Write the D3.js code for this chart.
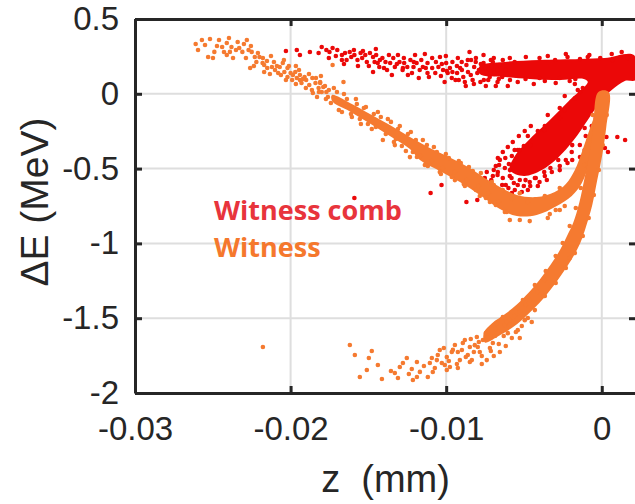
<!DOCTYPE html>
<html>
<head>
<meta charset="utf-8">
<script src="https://cdn.jsdelivr.net/npm/d3@7/dist/d3.min.js"></script>
<style>
  html, body { margin: 0; padding: 0; background: #ffffff; }
  svg { display: block; }
</style>
</head>
<body>
<svg id="chart" width="635" height="504"></svg>
<script>
// ---- axes ----
const xDomain = [-0.03, 0.0022];
const yDomain = [-2, 0.5];
const xTicks = [-0.03, -0.02, -0.01, 0];
const xTickLabels = ["-0.03", "-0.02", "-0.01", "0"];
const yTicks = [-2, -1.5, -1, -0.5, 0, 0.5];
const yTickLabels = ["-2", "-1.5", "-1", "-0.5", "0", "0.5"];
const xLabel = "z\u00a0 (mm)";
const yLabel = "\u0394E (MeV)";
const seriesNames = ["Witness comb", "Witness"];

// ---- dense regions of the phase space, outlines as [z (mm), dE (MeV)] ----
const combCore = [
  [-0.00784, 0.186], [-0.00623, 0.213], [-0.00398, 0.226], [-0.00141, 0.233], [0.00019, 0.239],
  [0.00206, 0.259], [0.00218, 0.092], [0.00148, 0.086], [0.00064, 0.025], [0.0, -0.041],
  [-0.00090, -0.175], [-0.00180, -0.309], [-0.00283, -0.429], [-0.00385, -0.509], [-0.00501, -0.549],
  [-0.00591, -0.509], [-0.00559, -0.416], [-0.00475, -0.315], [-0.00340, -0.182], [-0.00212, -0.048],
  [-0.00090, 0.079], [-0.00116, 0.099], [-0.00270, 0.092], [-0.00463, 0.099], [-0.00623, 0.112],
  [-0.00784, 0.132]
];
const witnessUpperCore = [
  [-0.01734, -0.008], [-0.01619, -0.061], [-0.01490, -0.135], [-0.01362, -0.209], [-0.01233, -0.289],
  [-0.01105, -0.362], [-0.00957, -0.436], [-0.00848, -0.496], [-0.00752, -0.563], [-0.00655, -0.623],
  [-0.00546, -0.676], [-0.00418, -0.690], [-0.00302, -0.656], [-0.00231, -0.603], [-0.00173, -0.509],
  [-0.00128, -0.389], [-0.00084, -0.255], [-0.00039, -0.122], [-0.00013, -0.028], [0.00013, 0.012],
  [0.00032, -0.015], [0.00006, -0.142], [-0.00032, -0.295], [-0.00077, -0.456], [-0.00128, -0.596],
  [-0.00193, -0.683], [-0.00289, -0.750], [-0.00418, -0.810], [-0.00546, -0.817], [-0.00655, -0.770],
  [-0.00784, -0.676], [-0.00912, -0.590], [-0.01041, -0.516], [-0.01169, -0.443], [-0.01233, -0.369],
  [-0.01362, -0.282], [-0.01490, -0.199], [-0.01619, -0.118], [-0.01734, -0.048]
];
const witnessLowerCore = [
  [0.00045, 0.012], [0.00029, -0.222], [0.00003, -0.409], [-0.00029, -0.577], [-0.00061, -0.743],
  [-0.00100, -0.884], [-0.00138, -0.997], [-0.00196, -1.111], [-0.00260, -1.211], [-0.00331, -1.312],
  [-0.00401, -1.399], [-0.00482, -1.482], [-0.00565, -1.556], [-0.00668, -1.622], [-0.00752, -1.662],
  [-0.00758, -1.596], [-0.00707, -1.535], [-0.00617, -1.469], [-0.00546, -1.408], [-0.00469, -1.328],
  [-0.00398, -1.241], [-0.00328, -1.141], [-0.00267, -1.041], [-0.00222, -0.947], [-0.00183, -0.860],
  [-0.00145, -0.730], [-0.00112, -0.570], [-0.00080, -0.402], [-0.00055, -0.222], [-0.00022, 0.012]
];

// ---- individual macro-particles [z (mm), dE (MeV)] ----
const combPoints = [
  // high-energy tail of the comb
  [-0.0203, 0.286], [-0.0196, 0.293], [-0.0182, 0.273], [-0.0180, 0.313], [-0.0177, 0.293],
  [-0.0175, 0.279], [-0.0173, 0.306], [-0.0170, 0.293], [-0.0167, 0.259], [-0.0167, 0.226],
  [-0.0165, 0.273], [-0.0164, 0.226], [-0.0162, 0.279], [-0.0161, 0.246], [-0.0159, 0.259],
  [-0.0157, 0.226], [-0.0155, 0.273], [-0.0154, 0.239], [-0.0152, 0.259], [-0.0151, 0.213],
  [-0.0149, 0.273], [-0.0147, 0.246], [-0.0146, 0.213], [-0.0145, 0.259], [-0.0144, 0.206],
  [-0.0143, 0.179], [-0.0141, 0.239], [-0.0147, 0.146], [-0.0139, 0.213], [-0.0138, 0.159],
  [-0.0136, 0.206], [-0.0134, 0.239], [-0.0133, 0.179], [-0.0131, 0.259], [-0.0130, 0.213],
  [-0.0128, 0.159], [-0.0127, 0.206], [-0.0125, 0.179], [-0.0123, 0.226], [-0.0122, 0.139],
  [-0.0121, 0.179], [-0.0120, 0.259], [-0.0119, 0.206], [-0.0117, 0.159], [-0.0116, 0.226],
  [-0.0115, 0.179], [-0.0112, 0.139], [-0.0112, 0.206], [-0.0109, 0.172], [-0.0109, 0.239],
  [-0.0107, 0.139], [-0.0105, 0.179], [-0.0104, 0.246], [-0.0102, 0.159], [-0.0101, 0.079],
  [-0.0100, 0.206], [-0.0099, 0.139], [-0.0096, 0.213], [-0.0096, 0.146], [-0.0094, 0.092],
  [-0.01940, 0.259], [-0.01876, 0.279], [-0.01754, 0.239], [-0.01709, 0.253], [-0.01657, 0.199],
  [-0.01593, 0.293], [-0.01567, 0.186], [-0.01535, 0.286], [-0.01497, 0.186], [-0.01452, 0.299],
  [-0.01400, 0.172], [-0.01368, 0.259], [-0.01349, 0.126], [-0.01317, 0.199], [-0.01272, 0.239],
  [-0.01246, 0.126], [-0.01208, 0.213], [-0.01176, 0.106], [-0.01137, 0.266], [-0.01111, 0.112],
  [-0.01066, 0.213], [-0.01034, 0.119], [-0.01002, 0.253], [-0.00976, 0.172], [-0.01028, 0.199],
  [-0.01131, 0.172], [-0.01278, 0.172], [-0.01426, 0.226],
  [-0.0093, 0.139], [-0.0091, 0.172], [-0.0089, 0.112], [-0.0087, 0.193], [-0.0086, 0.146],
  [-0.0085, 0.279], [-0.0083, 0.092], [-0.0082, 0.179], [-0.0080, 0.139], [-0.0078, 0.079],
  [-0.0076, 0.259], [-0.0076, 0.206], [-0.0074, 0.146], [-0.0072, 0.112], [-0.0071, 0.179],
  [-0.0069, 0.139], [-0.0067, 0.079], [-0.0066, 0.193], [-0.0064, 0.112], [-0.0062, 0.159],
  [-0.0090, 0.213], [-0.0084, 0.226], [-0.0075, 0.172], [-0.0073, 0.092], [-0.0070, 0.213],
  [-0.0067, 0.159], [-0.0088, 0.079], [-0.0081, 0.213],
  [-0.00925, 0.239], [-0.00874, 0.052], [-0.00809, 0.239], [-0.00745, 0.052], [-0.00694, 0.239],
  [-0.00919, 0.092], [-0.00842, 0.126], [-0.00777, 0.199], [-0.00726, 0.166], [-0.00662, 0.099],
  [-0.00636, 0.226],
  [-0.00899, 0.159], [-0.00861, 0.226], [-0.00822, 0.066], [-0.00790, 0.159], [-0.00758, 0.092],
  [-0.00713, 0.226], [-0.00681, 0.052], [-0.00931, 0.186], [-0.00964, 0.106], [-0.00996, 0.152],
  // around the dense band near z = 0
  [-0.00591, 0.239], [-0.00540, 0.079], [-0.00488, 0.246], [-0.00437, 0.066], [-0.00347, 0.253],
  [-0.00296, 0.072], [-0.00231, 0.266], [-0.00173, 0.066], [-0.00090, 0.246], [0.00064, 0.266],
  [0.00128, 0.279], [0.00167, 0.239], [-0.00604, 0.052], [-0.00366, 0.086], [-0.00206, 0.086],
  [-0.0022, 0.246], [-0.0008, 0.259], [-0.0001, 0.239], [0.0007, 0.226], [-0.0040, 0.239],
  [-0.0059, 0.092], [-0.0049, 0.099], [-0.0040, 0.106], [-0.0056, 0.213], [-0.0030, 0.226],
  [-0.0014, 0.233], [0.0012, 0.246], [-0.0027, 0.106], [-0.0017, 0.099],
  // chirped branch
  [0.0003, -0.289], [0.0010, -0.289], [0.0015, -0.309], [-0.0003, -0.362], [0.0002, -0.362],
  [0.0004, -0.389], [-0.0027, -0.510], [-0.0022, -0.463], [-0.0019, -0.443], [-0.0014, -0.423],
  [-0.0011, -0.376],
  [-0.00655, -0.442], [-0.00623, -0.496], [-0.00668, -0.523], [-0.00636, -0.563], [-0.00591, -0.549],
  [-0.00565, -0.596], [-0.00527, -0.576], [-0.00501, -0.616], [-0.00463, -0.590], [-0.00424, -0.563],
  [-0.00597, -0.469], [-0.00578, -0.416], [-0.00540, -0.376], [-0.00501, -0.349], [-0.00475, -0.282],
  [-0.00411, -0.249], [-0.00366, -0.215], [-0.00347, -0.142], [-0.00270, -0.095], [-0.00238, -0.015],
  [-0.00154, 0.025], [-0.00122, 0.039], [-0.00617, -0.610], [-0.00700, -0.549], [-0.00681, -0.483],
  [-0.00366, -0.549], [-0.00321, -0.523], [-0.00270, -0.483], [-0.00231, -0.443], [-0.00193, -0.389],
  [-0.00141, -0.342], [-0.00103, -0.282], [-0.00064, -0.215], [-0.00039, -0.162], [-0.00559, -0.643],
  [-0.00514, -0.656], [-0.00739, -0.523], [-0.00719, -0.610],
  [-0.00668, -0.429], [-0.00636, -0.389], [-0.00604, -0.356], [-0.00572, -0.322], [-0.00533, -0.282],
  [-0.00495, -0.249], [-0.00456, -0.215], [-0.00694, -0.509], [-0.00649, -0.643], [-0.00578, -0.663],
  [-0.00475, -0.643], [-0.00411, -0.616], [-0.00353, -0.576], [-0.00752, -0.563], [-0.00687, -0.676],
  [-0.0066, -0.476], [-0.0062, -0.429], [-0.0059, -0.510], [-0.0058, -0.563], [-0.0054, -0.610],
  [-0.0049, -0.577], [-0.0046, -0.616], [-0.0043, -0.563], [-0.0067, -0.543], [-0.0064, -0.610],
  [-0.0056, -0.376], [-0.0060, -0.630], [-0.0037, -0.523], [-0.0033, -0.496], [-0.0040, -0.590],
  [-0.0071, -0.577],
  [-0.0110, -0.663], [-0.0103, -0.610], [-0.0087, -0.723], [-0.0082, -0.623], [-0.0080, -0.710],
  [-0.0159, -0.697],
  [-0.0027, -0.162], [-0.0037, -0.242], [-0.0046, -0.343], [-0.0017, -0.028], [-0.0014, 0.012],
  [-0.0024, -0.108], [-0.0053, -0.376], [-0.0011, -0.229], [-0.0019, -0.343], [-0.0028, -0.443]
];

const witnessPoints = [
  // head of the witness bunch
  [-0.0261, 0.333], [-0.0257, 0.360], [-0.0253, 0.246], [-0.0249, 0.280], [-0.0246, 0.360],
  [-0.0244, 0.313], [-0.0241, 0.340], [-0.0241, 0.259], [-0.0238, 0.313], [-0.0239, 0.280],
  [-0.0234, 0.346], [-0.0233, 0.306], [-0.0231, 0.280], [-0.0227, 0.293], [-0.0226, 0.172],
  [-0.0225, 0.280], [-0.0223, 0.246], [-0.0222, 0.213], [-0.0220, 0.246], [-0.0218, 0.206],
  [-0.0217, 0.193], [-0.0217, 0.146], [-0.0215, 0.172], [-0.0212, 0.179], [-0.0210, 0.159],
  [-0.0208, 0.139], [-0.0207, 0.179], [-0.0205, 0.206], [-0.0204, 0.146], [-0.0202, 0.172],
  [-0.0202, 0.112], [-0.0200, 0.139], [-0.0199, 0.092], [-0.0197, 0.146], [-0.0196, 0.106],
  [-0.0194, 0.126], [-0.0193, 0.072], [-0.0191, 0.112], [-0.0190, 0.092], [-0.0188, 0.059],
  [-0.0186, 0.106], [-0.0184, 0.072], [-0.0182, 0.039], [-0.0181, 0.072], [-0.0180, 0.012],
  [-0.0179, 0.045], [-0.0177, 0.012], [-0.0176, -0.021], [-0.0183, -0.021], [-0.0194, 0.092],
  [-0.0173, 0.193], [-0.0166, 0.079], [-0.0181, 0.079],
  [-0.02595, 0.293], [-0.02550, 0.326], [-0.02518, 0.366], [-0.02499, 0.239], [-0.02473, 0.320],
  [-0.02428, 0.279], [-0.02396, 0.373], [-0.02370, 0.239], [-0.02351, 0.293], [-0.02300, 0.333],
  [-0.02287, 0.239], [-0.02255, 0.320], [-0.02236, 0.186], [-0.02210, 0.273], [-0.02178, 0.239],
  [-0.02152, 0.219], [-0.02133, 0.132], [-0.02107, 0.213], [-0.02088, 0.186], [-0.02062, 0.126],
  [-0.02043, 0.226], [-0.02030, 0.092], [-0.02011, 0.186], [-0.01985, 0.126], [-0.01966, 0.066],
  [-0.01946, 0.159], [-0.01921, 0.099], [-0.01902, 0.039], [-0.01882, 0.132], [-0.01863, 0.025],
  [-0.01837, 0.106], [-0.01818, 0.012], [-0.01805, 0.119], [-0.01779, 0.052], [-0.01773, -0.035],
  [-0.01754, 0.025], [-0.01857, 0.005], [-0.01966, 0.186], [-0.02126, 0.253], [-0.02281, 0.360],
  // upper arm
  [-0.01722, 0.039], [-0.01690, -0.108], [-0.01657, -0.001], [-0.01606, -0.155], [-0.01580, -0.035],
  [-0.01548, -0.202], [-0.01516, -0.088], [-0.01478, -0.235], [-0.01439, -0.122], [-0.01407, -0.309],
  [-0.01375, -0.168], [-0.01336, -0.322], [-0.01298, -0.215], [-0.01259, -0.382], [-0.01227, -0.255],
  [-0.01188, -0.422], [-0.01150, -0.309], [-0.01118, -0.483], [-0.01079, -0.356], [-0.01034, -0.536],
  [-0.01002, -0.402], [-0.00964, -0.556], [-0.00919, -0.449], [-0.00887, -0.603], [-0.00854, -0.489],
  [-0.00809, -0.643], [-0.00777, -0.529], [-0.00745, -0.696], [-0.00707, -0.590], [-0.00681, -0.743],
  [-0.00636, -0.643], [-0.00610, -0.790], [-0.00578, -0.703], [-0.00527, -0.844], [-0.00475, -0.723],
  [-0.00347, -0.830], [-0.00296, -0.777], [-0.00238, -0.750],
  [-0.01741, -0.061], [-0.01702, 0.012], [-0.01670, -0.122], [-0.01638, -0.035], [-0.01612, -0.135],
  [-0.01574, -0.068], [-0.01555, -0.168], [-0.01529, -0.095], [-0.01503, -0.202], [-0.01465, -0.135],
  [-0.01452, -0.222], [-0.01420, -0.155], [-0.01388, -0.269], [-0.01355, -0.188], [-0.01323, -0.302],
  [-0.01310, -0.235], [-0.01285, -0.349], [-0.01246, -0.269], [-0.01214, -0.389], [-0.01195, -0.309],
  [-0.01163, -0.416], [-0.01124, -0.342], [-0.01092, -0.449], [-0.01060, -0.389], [-0.01021, -0.496],
  [-0.00983, -0.429], [-0.00944, -0.523], [-0.00906, -0.463], [-0.00867, -0.576], [-0.00829, -0.516],
  [-0.00790, -0.616], [-0.00726, -0.663], [-0.00694, -0.610], [-0.00662, -0.723],
  [-0.00944, -0.577], [-0.00880, -0.616], [-0.01041, -0.523], [-0.01137, -0.476], [-0.01233, -0.423],
  [-0.01330, -0.343], [-0.00784, -0.683], [-0.00719, -0.723], [-0.00623, -0.790],
  [-0.00591, -0.844], [-0.00463, -0.851], [-0.00334, -0.804], [-0.00270, -0.777], [-0.00527, -0.664],
  [-0.00366, -0.683], [-0.00270, -0.630], [-0.00206, -1.098],
  // lower arm
  [-0.00366, -1.352], [-0.00296, -1.265], [-0.00231, -1.164], [-0.00173, -1.064], [-0.00122, -0.951],
  [-0.00084, -0.830], [-0.00051, -0.676], [-0.00019, -0.509], [0.00006, -0.342], [0.00032, -0.142],
  [-0.00507, -1.378], [-0.00430, -1.278], [-0.00360, -1.185], [-0.00296, -1.084], [-0.00251, -0.997],
  [-0.00206, -0.884], [-0.00167, -0.763], [-0.00135, -0.630], [-0.00109, -0.476], [-0.00084, -0.309],
  [-0.00058, -0.142],
  // low-energy tail
  [-0.01619, -1.679], [-0.01587, -1.746], [-0.01478, -1.719], [-0.01510, -1.846], [-0.01555, -1.893],
  [-0.01413, -1.906], [-0.01330, -1.866], [-0.01298, -1.826], [-0.01278, -1.799], [-0.01253, -1.766],
  [-0.01221, -1.840], [-0.01214, -1.913], [-0.01188, -1.893], [-0.01118, -1.893], [-0.01105, -1.799],
  [-0.01092, -1.766], [-0.01060, -1.780], [-0.01041, -1.713], [-0.00996, -1.760], [-0.00976, -1.826],
  [-0.00944, -1.679], [-0.00912, -1.780], [-0.00880, -1.646], [-0.00848, -1.693], [-0.00835, -1.780],
  [-0.00803, -1.626], [-0.00784, -1.726], [-0.00739, -1.780], [-0.00732, -1.600], [-0.00700, -1.666],
  [-0.00674, -1.533], [-0.00655, -1.726], [-0.00636, -1.493], [-0.00604, -1.600],
  [-0.01028, -1.799], [-0.00964, -1.726], [-0.00899, -1.713], [-0.00816, -1.680], [-0.00764, -1.646],
  [-0.01009, -1.813], [-0.01169, -1.859], [-0.01073, -1.833], [-0.00925, -1.726], [-0.00861, -1.746],
  [-0.00797, -1.693], [-0.00719, -1.699], [-0.00687, -1.619], [-0.00623, -1.546], [-0.00591, -1.513],
  [-0.00540, -1.580], [-0.00495, -1.513], [-0.00527, -1.459], [-0.00463, -1.379], [-0.00430, -1.446],
  [-0.00488, -1.412], [-0.00366, -1.245], [-0.00372, -1.352], [-0.00411, -1.325],
  [-0.01054, -1.746], [-0.01015, -1.699], [-0.00983, -1.786], [-0.00957, -1.712], [-0.00931, -1.806],
  [-0.00893, -1.666], [-0.00874, -1.759], [-0.00842, -1.639], [-0.00822, -1.726], [-0.00790, -1.659],
  [-0.00771, -1.753], [-0.00745, -1.599], [-0.00713, -1.719], [-0.00681, -1.572], [-0.00662, -1.672],
  [-0.00630, -1.619], [-0.00610, -1.525], [-0.00578, -1.632], [-0.00559, -1.485], [-0.00552, -1.592],
  [-0.00514, -1.552], [-0.00475, -1.499], [-0.01086, -1.860], [-0.01143, -1.820], [-0.01188, -1.793],
  [-0.01240, -1.873], [-0.01310, -1.900], [-0.01355, -1.853], [-0.01439, -1.813], [-0.01497, -1.766],
  [-0.00996, -1.846], [-0.00925, -1.833], [-0.00848, -1.793], [-0.00771, -1.806], [-0.00694, -1.753],
  [-0.00617, -1.686], [-0.00527, -1.632], [-0.00450, -1.525],
  [-0.02178, -1.693]
];

// ---- layout ----
const plot = { left: 135, top: 19, right: 636, bottom: 393 };
const colors = { comb: "#eb0808", witness: "#f57a30", axis: "#262626", grid: "#dedede" };
const dotRadius = 2.3;

const svg = d3.select("#chart");

const x = d3.scaleLinear().domain(xDomain).range([plot.left, plot.right]);
const y = d3.scaleLinear().domain(yDomain).range([plot.bottom, plot.top]);

svg.append("defs").append("clipPath").attr("id", "plot-clip")
  .append("rect")
  .attr("x", plot.left).attr("y", plot.top)
  .attr("width", plot.right - plot.left).attr("height", plot.bottom - plot.top);

// grid
const grid = svg.append("g").attr("class", "grid");
grid.selectAll("line.gx").data(xTicks).join("line")
  .attr("class", "gx")
  .attr("x1", d => x(d)).attr("x2", d => x(d))
  .attr("y1", plot.top).attr("y2", plot.bottom)
  .attr("stroke", colors.grid).attr("stroke-width", 2);
grid.selectAll("line.gy").data(yTicks).join("line")
  .attr("class", "gy")
  .attr("x1", plot.left).attr("x2", plot.right)
  .attr("y1", d => y(d)).attr("y2", d => y(d))
  .attr("stroke", colors.grid).attr("stroke-width", 2);

// data
const data = svg.append("g").attr("clip-path", "url(#plot-clip)");
const outline = d3.line()
  .x(d => x(d[0])).y(d => y(d[1]))
  .curve(d3.curveCatmullRomClosed.alpha(0.5));

function drawSeries(cores, points, color) {
  const g = data.append("g");
  g.selectAll("path").data(cores).join("path")
    .attr("d", outline)
    .attr("fill", color);
  g.selectAll("circle").data(points).join("circle")
    .attr("cx", d => x(d[0])).attr("cy", d => y(d[1]))
    .attr("r", dotRadius)
    .attr("fill", color);
}
drawSeries([combCore], combPoints, colors.comb);
drawSeries([witnessUpperCore, witnessLowerCore], witnessPoints, colors.witness);

// axes (ticks point inward, box all round)
const tickFont = "'Liberation Sans', Arial, Helvetica, sans-serif";
const fmtX = d => xTickLabels[xTicks.indexOf(d)];
const fmtY = d => yTickLabels[yTicks.indexOf(d)];

const gBottom = svg.append("g").attr("transform", `translate(0,${plot.bottom})`)
  .call(d3.axisBottom(x).tickValues(xTicks).tickFormat(fmtX)
    .tickSizeInner(-7).tickSizeOuter(0).tickPadding(24));
const gLeft = svg.append("g").attr("transform", `translate(${plot.left},0)`)
  .call(d3.axisLeft(y).tickValues(yTicks).tickFormat(fmtY)
    .tickSizeInner(-7).tickSizeOuter(0).tickPadding(16));
const gTop = svg.append("g").attr("transform", `translate(0,${plot.top})`)
  .call(d3.axisTop(x).tickValues(xTicks).tickFormat("")
    .tickSizeInner(-7).tickSizeOuter(0));
const gRight = svg.append("g").attr("transform", `translate(${plot.right},0)`)
  .call(d3.axisRight(y).tickValues(yTicks).tickFormat("")
    .tickSizeInner(-7).tickSizeOuter(0));

[gBottom, gLeft, gTop, gRight].forEach(g => {
  g.select(".domain").attr("stroke", colors.axis).attr("stroke-width", 3);
  g.selectAll(".tick line").attr("stroke", colors.axis).attr("stroke-width", 3);
  g.selectAll(".tick text")
    .attr("fill", colors.axis)
    .style("font-family", tickFont)
    .style("font-size", "33px");
});

// axis titles
svg.append("text")
  .attr("x", (plot.left + plot.right) / 2)
  .attr("y", 492)
  .attr("text-anchor", "middle")
  .attr("fill", colors.axis)
  .style("font-family", tickFont)
  .style("font-size", "38px")
  .text(xLabel);

svg.append("text")
  .attr("transform", `translate(48,${(plot.top + plot.bottom) / 2 - 4}) rotate(-90)`)
  .attr("text-anchor", "middle")
  .attr("fill", colors.axis)
  .style("font-family", tickFont)
  .style("font-size", "39px")
  .text(yLabel);

// series labels
const legendFont = "'Open Sans', 'Noto Sans', sans-serif";
svg.append("text")
  .attr("x", 214).attr("y", 220)
  .attr("fill", "#e8343c")
  .style("font-family", legendFont).style("font-weight", 700).style("font-size", "27px")
  .text(seriesNames[0]);
svg.append("text")
  .attr("x", 214).attr("y", 257)
  .attr("fill", "#f5782d")
  .style("font-family", legendFont).style("font-weight", 700).style("font-size", "27px")
  .text(seriesNames[1]);
</script>
</body>
</html>
